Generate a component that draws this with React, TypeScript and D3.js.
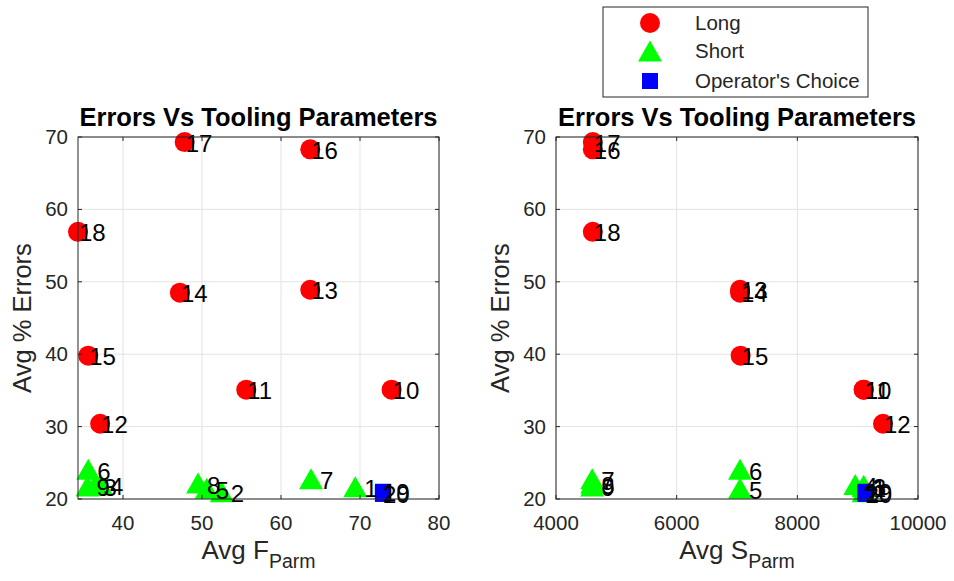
import React from 'react';
import * as d3 from 'd3';

// ---- Data ----
const longIds = [10, 11, 12, 13, 14, 15, 16, 17, 18];
const longF = [74.0, 55.6, 37.1, 63.7, 47.2, 35.6, 63.7, 47.8, 34.3];
const longS = [9100, 9100, 9420, 7050, 7050, 7060, 4610, 4610, 4610];
const longErr = [35.1, 35.1, 30.4, 48.9, 48.5, 39.8, 68.3, 69.3, 56.9];

const shortIds = [1, 2, 3, 4, 5, 6, 7, 8, 9];
const shortF = [69.4, 52.5, 36.4, 37.2, 50.6, 35.6, 63.8, 49.5, 35.5];
const shortS = [9100, 9100, 9100, 8960, 7050, 7050, 4600, 4600, 4600];
const shortErr = [21.7, 21.0, 21.9, 22.0, 21.5, 24.1, 22.8, 22.2, 21.8];

const opIds = [19, 20];
const opF = [72.9, 72.9];
const opS = [9130, 9130];
const opErr = [21.0, 20.7];

const fTicks = [40, 50, 60, 70, 80];
const sTicks = [4000, 6000, 8000, 10000];
const errTicks = [20, 30, 40, 50, 60, 70];

const legendLabels = ['Long', 'Short', "Operator's Choice"];
const titleText = 'Errors Vs Tooling Parameters';

const FONT = "'Liberation Sans', Arial, Helvetica, sans-serif";
const AX = '#262626';
const GRID = '#e3e3e3';

type PanelProps = {
  left: number;
  right: number;
  xDomain: [number, number];
  xTicks: number[];
  xs: { long: number[]; short: number[]; op: number[] };
  xMain: string;
};

const TOP = 137;
const BOTTOM = 499;

function Triangle({ cx, cy }: { cx: number; cy: number }) {
  const w = 24, h = 21;
  const p = `M${cx},${cy - h / 2}L${cx + w / 2},${cy + h / 2}L${cx - w / 2},${cy + h / 2}Z`;
  return <path d={p} fill="#00ff00" />;
}

function Panel({ left, right, xDomain, xTicks, xs, xMain }: PanelProps) {
  const x = d3.scaleLinear().domain(xDomain).range([left, right]);
  const y = d3.scaleLinear().domain([20, 70]).range([BOTTOM, TOP]);
  const cxm = (left + right) / 2;
  const labelFs = 24;
  return (
    <g>
      <rect x={left} y={TOP} width={right - left} height={BOTTOM - TOP} fill="#fff" />
      {xTicks.map((t) => (
        <line key={'gx' + t} x1={x(t)} x2={x(t)} y1={TOP} y2={BOTTOM} stroke={GRID} strokeWidth={1} />
      ))}
      {errTicks.map((t) => (
        <line key={'gy' + t} x1={left} x2={right} y1={y(t)} y2={y(t)} stroke={GRID} strokeWidth={1} />
      ))}
      {/* markers */}
      {longErr.map((e, i) => (
        <circle key={'l' + i} cx={x(xs.long[i])} cy={y(e)} r={10} fill="#ff0000" />
      ))}
      {shortErr.map((e, i) => (
        <Triangle key={'s' + i} cx={x(xs.short[i])} cy={y(e)} />
      ))}
      {opErr.map((e, i) => (
        <rect key={'o' + i} x={x(xs.op[i]) - 8} y={y(e) - 8} width={16} height={16} fill="#0000ff" />
      ))}
      {/* labels */}
      {longErr.map((e, i) => (
        <text key={'lt' + i} x={x(xs.long[i]) + 1} y={y(e) + 1} dominantBaseline="central" fontSize={labelFs} fontFamily={FONT} fill="#000">
          {longIds[i]}
        </text>
      ))}
      {shortErr.map((e, i) => (
        <text key={'st' + i} x={x(xs.short[i]) + 9} y={y(e) + 2} dominantBaseline="central" fontSize={labelFs} fontFamily={FONT} fill="#000">
          {shortIds[i]}
        </text>
      ))}
      {opErr.map((e, i) => (
        <text key={'ot' + i} x={x(xs.op[i])} y={y(e) + 1} dominantBaseline="central" fontSize={labelFs} fontFamily={FONT} fill="#000">
          {opIds[i]}
        </text>
      ))}
      {/* box */}
      <rect x={left} y={TOP} width={right - left} height={BOTTOM - TOP} fill="none" stroke={AX} strokeWidth={1} />
      {xTicks.map((t) => (
        <g key={'tx' + t}>
          <line x1={x(t)} x2={x(t)} y1={BOTTOM} y2={BOTTOM - 4} stroke={AX} />
          <line x1={x(t)} x2={x(t)} y1={TOP} y2={TOP + 4} stroke={AX} />
          <text x={x(t)} y={530} textAnchor="middle" fontSize={20.5} fontFamily={FONT} fill={AX}>
            {t}
          </text>
        </g>
      ))}
      {errTicks.map((t) => (
        <g key={'ty' + t}>
          <line x1={left} x2={left + 4} y1={y(t)} y2={y(t)} stroke={AX} />
          <line x1={right} x2={right - 4} y1={y(t)} y2={y(t)} stroke={AX} />
          <text x={left - 10} y={y(t) + 7} textAnchor="end" fontSize={20.5} fontFamily={FONT} fill={AX}>
            {t}
          </text>
        </g>
      ))}
      <text x={cxm} y={126} textAnchor="middle" fontSize={25.5} fontWeight="bold" fontFamily={FONT} fill="#000">
        {titleText}
      </text>
      <text x={cxm} y={559} textAnchor="middle" fontSize={26} fontFamily={FONT} fill={AX}>
        <tspan>{xMain}</tspan>
        <tspan dy={9} fontSize={19.5}>Parm</tspan>
      </text>
      <text
        transform={`translate(${left - 47},${(TOP + BOTTOM) / 2}) rotate(-90)`}
        textAnchor="middle"
        fontSize={25.5}
        fontFamily={FONT}
        fill={AX}
      >
        Avg % Errors
      </text>
    </g>
  );
}

function Legend() {
  const lx = 603, ly = 7, lw = 265, lh = 90;
  const rows = [23, 51, 81];
  return (
    <g>
      <rect x={lx} y={ly} width={lw} height={lh} fill="#fff" stroke={AX} strokeWidth={1} />
      <circle cx={650} cy={rows[0]} r={10} fill="#ff0000" />
      <Triangle cx={650} cy={rows[1]} />
      <rect x={650 - 8} y={rows[2] - 8} width={16} height={16} fill="#0000ff" />
      {legendLabels.map((l, i) => (
        <text key={l} x={695} y={rows[i] + 7} fontSize={20.5} fontFamily={FONT} fill={AX}>
          {l}
        </text>
      ))}
    </g>
  );
}

export default function App() {
  return (
    <svg width={954} height={581} style={{ position: 'absolute', left: 0, top: 0, background: '#fff' }}>
      <rect width={954} height={581} fill="#fff" />
      <Panel
        left={78}
        right={439}
        xDomain={[34.3, 80]}
        xTicks={fTicks}
        xs={{ long: longF, short: shortF, op: opF }}
        xMain="Avg F"
      />
      <Panel
        left={556}
        right={918}
        xDomain={[4000, 10000]}
        xTicks={sTicks}
        xs={{ long: longS, short: shortS, op: opS }}
        xMain="Avg S"
      />
      <Legend />
    </svg>
  );
}
